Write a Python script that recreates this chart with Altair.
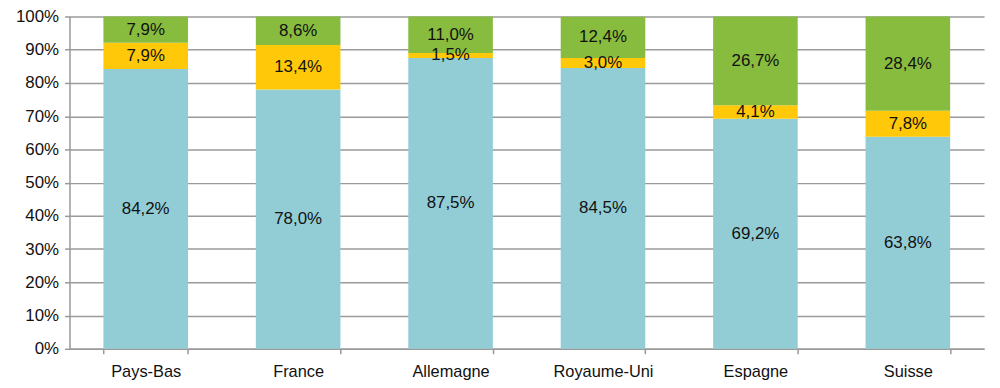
import altair as alt
import pandas as pd

countries = ["Pays-Bas", "France", "Allemagne", "Royaume-Uni", "Espagne", "Suisse"]
blue_vals = [84.2, 78.0, 87.5, 84.5, 69.2, 63.8]
yellow_vals = [7.9, 13.4, 1.5, 3.0, 4.1, 7.8]
green_vals = [7.9, 8.6, 11.0, 12.4, 26.7, 28.4]
series_names = ["s1", "s2", "s3"]
colors = ["#92CDD6", "#FFC90A", "#88BC3F"]
y_ticks = [0, 10, 20, 30, 40, 50, 60, 70, 80, 90, 100]

rows = []
for i, c in enumerate(countries):
    start = 0.0
    for k, vals in enumerate([blue_vals, yellow_vals, green_vals]):
        v = vals[i]
        rows.append({
            "country": c, "series": series_names[k], "order": k,
            "y0": start, "y1": start + v, "mid": start + v / 2,
            "label": f"{v:.1f}%".replace(".", ","),
        })
        start += v
df = pd.DataFrame(rows)

font = "Liberation Sans"

x_scale = alt.Scale(paddingInner=0.445, paddingOuter=0.2225)
x_axis = alt.Axis(labelAngle=0, labelFontSize=16.5, labelFont=font, labelColor="#111",
                  labelPadding=10, tickBand="extent", tickSize=5, tickColor="#999",
                  tickWidth=1.5, domainColor="#999", domainWidth=1.5, grid=False, title=None)
y_scale = alt.Scale(domain=[0, 100], nice=False)
y_axis = alt.Axis(values=y_ticks, labelExpr="datum.value + '%'", labelOverlap=False,
                  labelFontSize=17, labelFont=font, labelColor="#111", labelPadding=6,
                  tickSize=5, tickColor="#999", tickWidth=1.5,
                  domainColor="#999", domainWidth=1.5, title=None,
                  grid=True, gridColor="#9a9a9a", gridWidth=1.5)

bars = alt.Chart(df).mark_bar().encode(
    x=alt.X("country:N", sort=countries, title=None, scale=x_scale, axis=x_axis),
    y=alt.Y("y0:Q", scale=y_scale, title=None, axis=y_axis),
    y2="y1:Q",
    color=alt.Color("series:N", scale=alt.Scale(domain=series_names, range=colors), legend=None),
)

texts = alt.Chart(df).mark_text(fontSize=17, font=font, color="#111", baseline="middle").encode(
    x=alt.X("country:N", sort=countries, title=None, scale=x_scale, axis=x_axis),
    y=alt.Y("mid:Q", scale=y_scale, title=None, axis=y_axis),
    text="label:N",
)

chart = (bars + texts).properties(
    width=922, height=335,
    autosize=alt.AutoSizeParams(type="none"),
    padding={"left": 62, "top": 7, "right": 8, "bottom": 40},
).configure_view(stroke=None).configure_axis(labelFont=font)

chart.save("out.html", embed_options={"renderer": "svg", "actions": False})
